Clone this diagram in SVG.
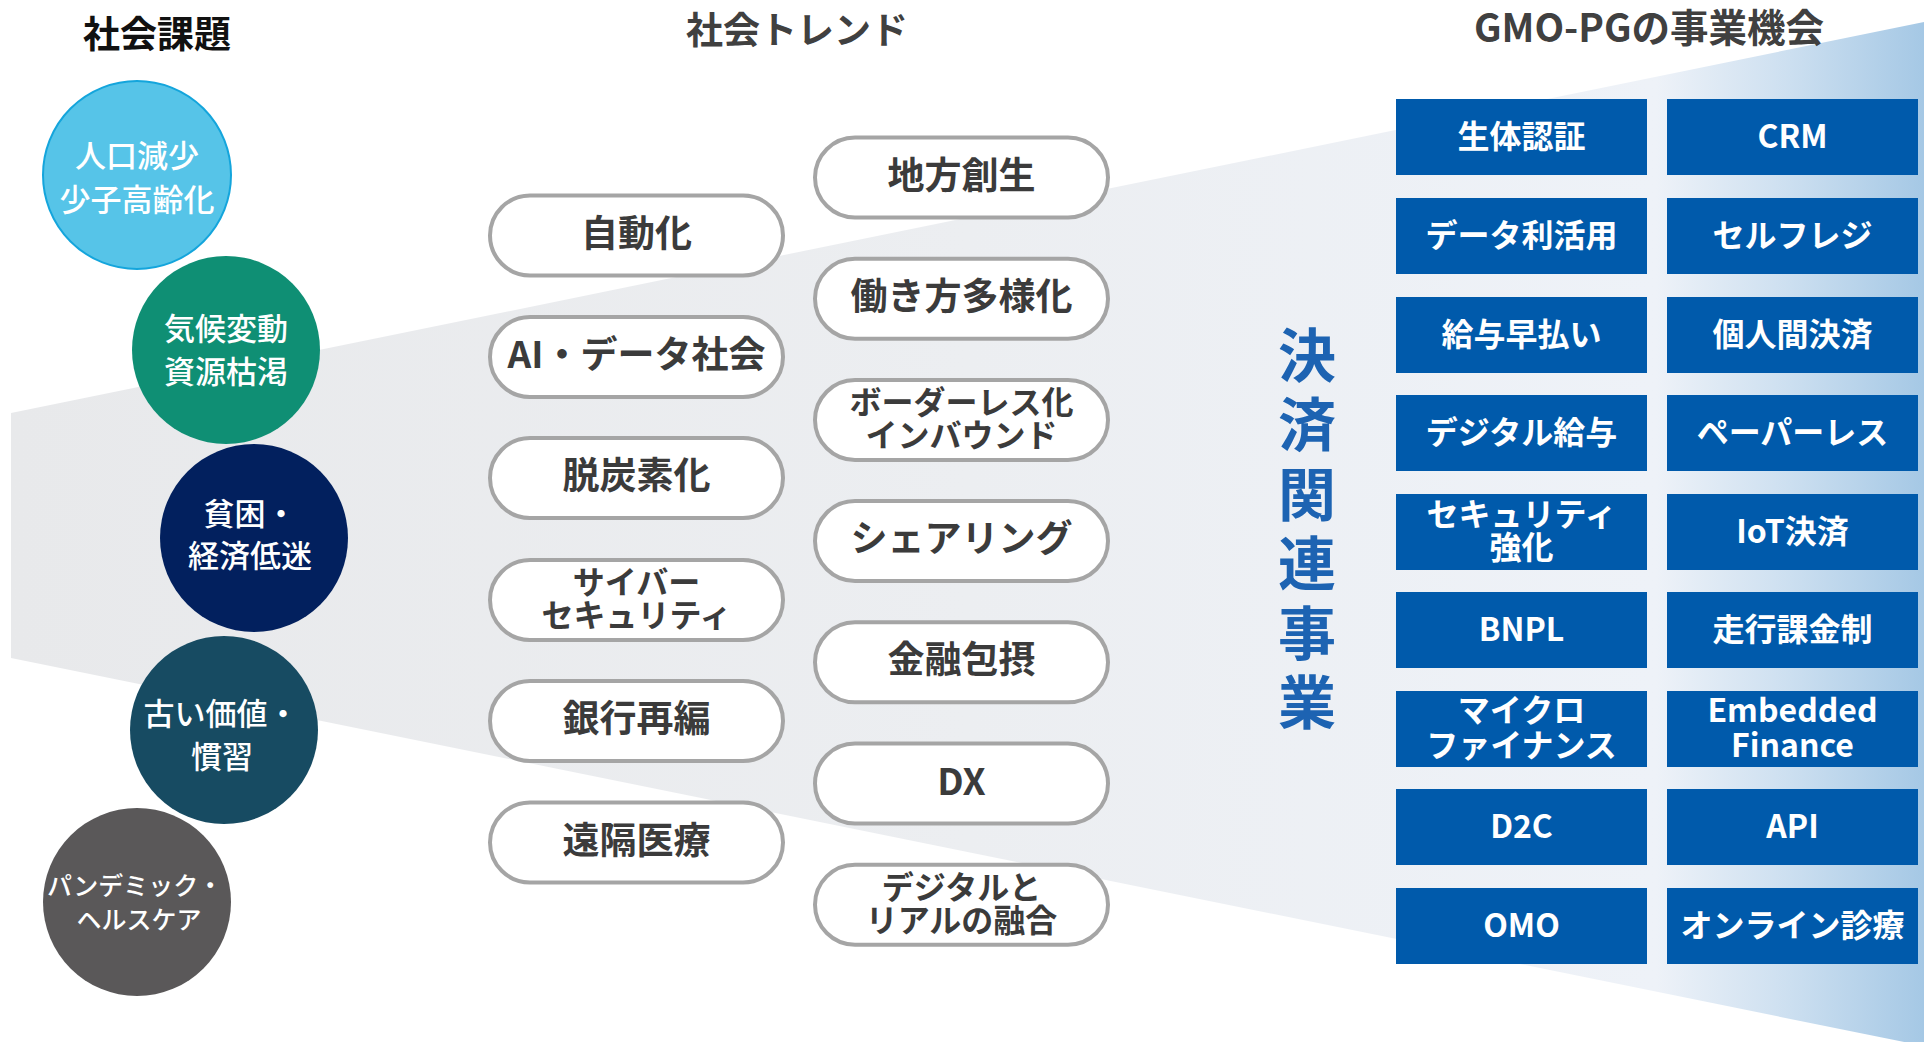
<svg xmlns="http://www.w3.org/2000/svg" width="1924" height="1042" viewBox="0 0 1924 1042">
<defs>
<linearGradient id="band" gradientUnits="userSpaceOnUse" x1="11" y1="0" x2="1924" y2="0">
<stop offset="0" stop-color="#E8E9EB"/>
<stop offset="0.5" stop-color="#ECEEF1"/>
<stop offset="0.86" stop-color="#EEF2F8"/>
<stop offset="0.93" stop-color="#CCDFF0"/>
<stop offset="1" stop-color="#A5C8E5"/>
</linearGradient>
<style>
text{font-family:"Noto Sans CJK JP","Noto Sans",sans-serif;text-anchor:middle;dominant-baseline:central}
.title{font-size:37px;font-weight:bold;fill:#404040}
.ctext{font-size:31px;font-weight:500;fill:#FFFFFF}
.pill rect{fill:#FFFFFF;stroke:#A5A5A5;stroke-width:4}
.pill text{font-size:37px;font-weight:bold;fill:#3B3B3B}
.pill text.sm{font-size:32px}
.box rect{fill:#005AAB}
.box text{font-size:32px;font-weight:bold;fill:#FFFFFF}
.vert{font-size:58px;font-weight:bold;fill:#1D63B2}
</style>
</defs>
<rect width="1924" height="1042" fill="#FFFFFF"/>
<polygon points="11,413 1924,22 1924,1046 11,658" fill="url(#band)"/>

<text class="title" x="157" y="32" style="fill:#111111">社会課題</text>
<text class="title" x="797" y="28">社会トレンド</text>
<text class="title" x="1649" y="25" style="font-size:38.5px">GMO-PGの事業機会</text>

<g id="issue1"><circle cx="137" cy="175" r="94" fill="#56C4E8" stroke="#14A5DC" stroke-width="2"/><text class="ctext"><tspan x="137" y="153">人口減少</tspan><tspan x="137" y="197">少子高齢化</tspan></text></g>
<g id="issue2"><circle cx="226" cy="350" r="94" fill="#0F8F74"/><text class="ctext"><tspan x="226" y="326">気候変動</tspan><tspan x="226" y="369">資源枯渇</tspan></text></g>
<g id="issue3"><circle cx="254" cy="538" r="94" fill="#02205E"/><text class="ctext"><tspan x="250" y="511">貧困・</tspan><tspan x="250" y="553">経済低迷</tspan></text></g>
<g id="issue4"><circle cx="224" cy="730" r="94" fill="#174B62"/><text class="ctext"><tspan x="221" y="711">古い価値・</tspan><tspan x="222" y="754">慣習</tspan></text></g>
<g id="issue5"><circle cx="137" cy="902" r="94" fill="#5A5859"/><text class="ctext" style="font-size:25px"><tspan x="135" y="884">パンデミック・</tspan><tspan x="139" y="918">ヘルスケア</tspan></text></g>

<g id="trend-jidouka" class="pill"><rect x="490" y="195.5" width="293" height="80" rx="40"/><text x="636.5" y="230.5">自動化</text></g>
<g id="trend-ai" class="pill"><rect x="490" y="317" width="293" height="80" rx="40"/><text x="636.5" y="352">AI・データ社会</text></g>
<g id="trend-datsutanso" class="pill"><rect x="490" y="438" width="293" height="80" rx="40"/><text x="636.5" y="473">脱炭素化</text></g>
<g id="trend-cyber" class="pill"><rect x="490" y="560" width="293" height="80" rx="40"/><text class="sm"><tspan x="636.5" y="580">サイバー</tspan><tspan x="636.5" y="613">セキュリティ</tspan></text></g>
<g id="trend-ginkou" class="pill"><rect x="490" y="681" width="293" height="80" rx="40"/><text x="636.5" y="716">銀行再編</text></g>
<g id="trend-enkaku" class="pill"><rect x="490" y="802.5" width="293" height="80" rx="40"/><text x="636.5" y="837.5">遠隔医療</text></g>

<g id="trend-chihou" class="pill"><rect x="815" y="137.5" width="293" height="80" rx="40"/><text x="961.5" y="172.5">地方創生</text></g>
<g id="trend-hatarakikata" class="pill"><rect x="815" y="258.7" width="293" height="80" rx="40"/><text x="961.5" y="293.7">働き方多様化</text></g>
<g id="trend-borderless" class="pill"><rect x="815" y="380" width="293" height="80" rx="40"/><text class="sm"><tspan x="961.5" y="400">ボーダーレス化</tspan><tspan x="961.5" y="433">インバウンド</tspan></text></g>
<g id="trend-sharing" class="pill"><rect x="815" y="501" width="293" height="80" rx="40"/><text x="961.5" y="536">シェアリング</text></g>
<g id="trend-kinyu" class="pill"><rect x="815" y="622.3" width="293" height="80" rx="40"/><text x="961.5" y="657.3">金融包摂</text></g>
<g id="trend-dx" class="pill"><rect x="815" y="743.5" width="293" height="80" rx="40"/><text x="961.5" y="778.5">DX</text></g>
<g id="trend-digital" class="pill"><rect x="815" y="864.7" width="293" height="80" rx="40"/><text class="sm"><tspan x="961.5" y="885">デジタルと</tspan><tspan x="961.5" y="918">リアルの融合</tspan></text></g>

<text class="vert"><tspan x="1307" y="352">決</tspan><tspan x="1307" y="421">済</tspan><tspan x="1307" y="491">関</tspan><tspan x="1307" y="560">連</tspan><tspan x="1307" y="630">事</tspan><tspan x="1307" y="699">業</tspan></text>

<g id="biz-seitai" class="box"><rect x="1396" y="99" width="251" height="76"/><text x="1521.5" y="134">生体認証</text></g>
<g id="biz-crm" class="box"><rect x="1667" y="99" width="251" height="76"/><text x="1792.5" y="134">CRM</text></g>
<g id="biz-data" class="box"><rect x="1396" y="198" width="251" height="76"/><text x="1521.5" y="233">データ利活用</text></g>
<g id="biz-selfreji" class="box"><rect x="1667" y="198" width="251" height="76"/><text x="1792.5" y="233">セルフレジ</text></g>
<g id="biz-kyuyohayabarai" class="box"><rect x="1396" y="297" width="251" height="76"/><text x="1521.5" y="332">給与早払い</text></g>
<g id="biz-kojinkan" class="box"><rect x="1667" y="297" width="251" height="76"/><text x="1792.5" y="332">個人間決済</text></g>
<g id="biz-digitalkyuyo" class="box"><rect x="1396" y="395" width="251" height="76"/><text x="1521.5" y="430">デジタル給与</text></g>
<g id="biz-paperless" class="box"><rect x="1667" y="395" width="251" height="76"/><text x="1792.5" y="430">ペーパーレス</text></g>
<g id="biz-security" class="box"><rect x="1396" y="494" width="251" height="76"/><text><tspan x="1521.5" y="512">セキュリティ</tspan><tspan x="1521.5" y="545">強化</tspan></text></g>
<g id="biz-iot" class="box"><rect x="1667" y="494" width="251" height="76"/><text x="1792.5" y="529">IoT決済</text></g>
<g id="biz-bnpl" class="box"><rect x="1396" y="592" width="251" height="76"/><text x="1521.5" y="627">BNPL</text></g>
<g id="biz-soukou" class="box"><rect x="1667" y="592" width="251" height="76"/><text x="1792.5" y="627">走行課金制</text></g>
<g id="biz-micro" class="box"><rect x="1396" y="691" width="251" height="76"/><text><tspan x="1521.5" y="708">マイクロ</tspan><tspan x="1521.5" y="743">ファイナンス</tspan></text></g>
<g id="biz-embedded" class="box"><rect x="1667" y="691" width="251" height="76"/><text><tspan x="1792.5" y="708">Embedded</tspan><tspan x="1792.5" y="743">Finance</tspan></text></g>
<g id="biz-d2c" class="box"><rect x="1396" y="789" width="251" height="76"/><text x="1521.5" y="824">D2C</text></g>
<g id="biz-api" class="box"><rect x="1667" y="789" width="251" height="76"/><text x="1792.5" y="824">API</text></g>
<g id="biz-omo" class="box"><rect x="1396" y="888" width="251" height="76"/><text x="1521.5" y="923">OMO</text></g>
<g id="biz-online" class="box"><rect x="1667" y="888" width="251" height="76"/><text x="1792.5" y="923">オンライン診療</text></g>
</svg>
